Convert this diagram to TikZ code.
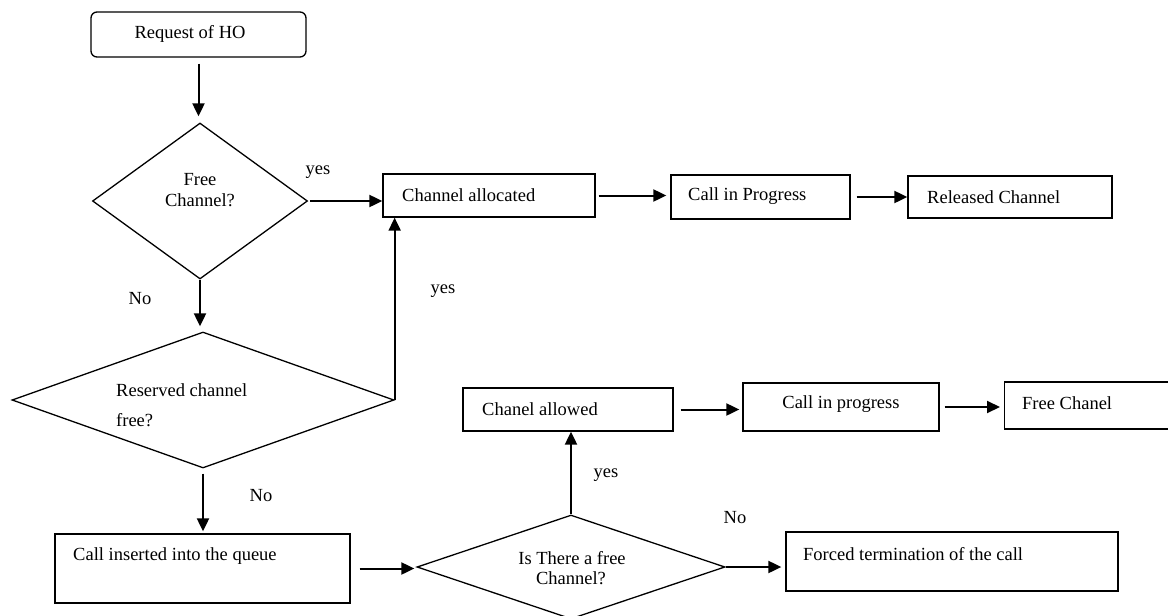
\documentclass[tikz,border=0pt]{standalone}
\usepackage{fontspec}
\setmainfont{Liberation Serif}
\usetikzlibrary{shapes.geometric,arrows.meta}
\begin{document}
\begin{tikzpicture}[x=1pt,y=-1pt,
  box/.style={draw,line width=1.3pt,rectangle,inner sep=0pt},
  dia/.style={draw,line width=1.3pt,diamond,inner sep=0pt},
  arr/.style={line width=2pt,-{Triangle[length=13pt,width=12pt]}},
  lbl/.style={inner sep=0pt,font=\fontsize{18.5}{21}\selectfont},
  ]
\useasboundingbox (0,0) rectangle (1168,616);
% top row
\node[box,rounded corners=6pt,minimum width=215pt,minimum height=45pt] (req) at (198.5,34.5) {};
\node[lbl] (reqt) at (190,34) {Request of HO};
\node[dia,minimum width=215pt,minimum height=156pt] (d1) at (200,201) {};
\node[lbl,align=center] (d1t) at (200,190) {Free\\Channel?};
\node[box,minimum width=212pt,minimum height=43pt] (ca) at (489,195.5) {};
\node[lbl,anchor=west] (cat) at (402,195) {Channel allocated};
\node[box,minimum width=179pt,minimum height=44pt] (cip) at (760.5,197) {};
\node[lbl,anchor=west] (cipt) at (688,196) {Call in Progress};
\node[box,minimum width=204pt,minimum height=42pt] (rel) at (1010,197) {};
\node[lbl,anchor=west] (relt) at (927,197) {Released Channel};
% second diamond
\node[dia,minimum width=382pt,minimum height=136pt] (d2) at (203,400) {};
\node[lbl,anchor=west] (d2a) at (116,390) {Reserved channel};
\node[lbl,anchor=west] (d2b) at (116,420) {free?};
% queue
\node[box,minimum width=295pt,minimum height=69pt] (qi) at (202.5,568.5) {};
\node[lbl,anchor=west] (qit) at (73,556) {Call inserted into the queue};
\node[dia,minimum width=308pt,minimum height=104pt] (d3) at (571,567) {};
\node[lbl] (d3a) at (572,558) {Is There a free};
\node[lbl] (d3b) at (571,578) {Channel?};
\node[box,minimum width=332pt,minimum height=59pt] (ft) at (952,561.5) {};
\node[lbl,anchor=west] (ftt) at (803,554) {Forced termination of the call};
% middle row
\node[box,minimum width=210pt,minimum height=43pt] (ca2) at (568,409.5) {};
\node[lbl,anchor=west] (ca2t) at (482,409) {Chanel allowed};
\node[box,minimum width=196pt,minimum height=48pt] (cip2) at (841,407) {};
\node[lbl] (cip2t) at (841,404) {Call in progress};
\node[box,minimum width=172pt,minimum height=47pt,anchor=west] (fc) at (1004,405.5) {};
\node[lbl,anchor=west] (fct) at (1022,403) {Free Chanel};
% labels
\node[lbl] (y1) at (318,172) {yes};
\node[lbl] (n1) at (140,299) {No};
\node[lbl] (y2) at (443,291) {yes};
\node[lbl] (n2) at (261,496) {No};
\node[lbl] (y3) at (606,475) {yes};
\node[lbl] (n3) at (735,518) {No};
% connectors
\draw[arr,shorten <=6pt,shorten >=6pt] (req.south) -- (req.south |- d1.north);
\draw[arr,shorten <=2pt] (d1.east) -- (d1.east -| ca.west);
\draw[arr,shorten <=3pt,shorten >=4pt] (ca.east) -- (ca.east -| cip.west);
\draw[arr,shorten <=6pt] (cip.east) -- (cip.east -| rel.west);
\draw[arr,shorten >=5pt] (d1.south) -- (d1.south |- d2.north);
\draw[arr] (d2.east) -- (d2.east |- ca.south);
\draw[arr,shorten <=5pt,shorten >=2pt] (d2.south) -- (d2.south |- qi.north);
\draw[arr,shorten <=9pt,shorten >=2pt] (qi.east) -- (qi.east -| d3.west);
\draw[arr] (d3.north) -- (d3.north |- ca2.south);
\draw[arr,shorten <=7pt,shorten >=3pt] (ca2.east) -- (ca2.east -| cip2.west);
\draw[arr,shorten <=5pt,shorten >=4pt] (cip2.east) -- (cip2.east -| fc.west);
\draw[arr,shorten >=4pt] (d3.east) -- (d3.east -| ft.west);
\end{tikzpicture}
\end{document}
